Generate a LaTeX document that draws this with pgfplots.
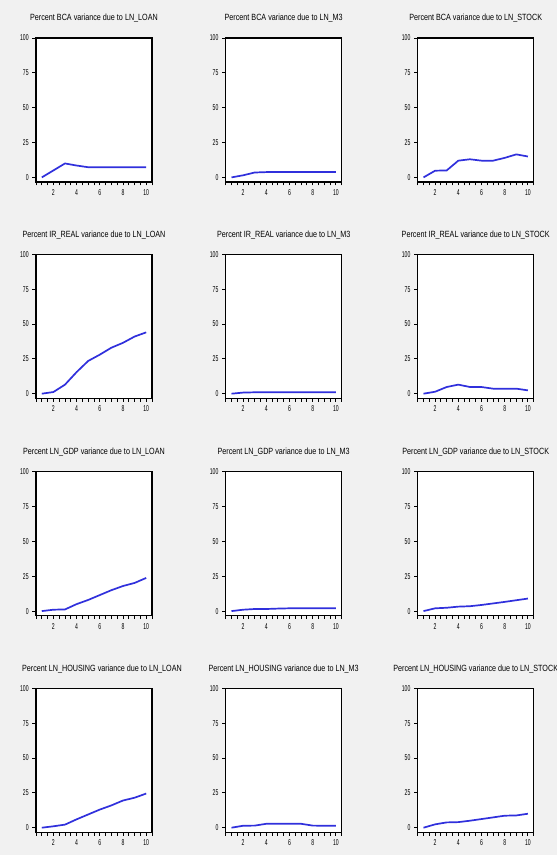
\documentclass[border=0pt]{standalone}
\usepackage{pgfplots}
\pgfplotsset{compat=1.18}
\usepackage{pgfplotstable}
\usepackage{fontspec}
\setmainfont{Liberation Sans}
\newfontfamily\titlefont[FakeStretch=0.8]{Liberation Sans}
\newfontfamily\tickfont[FakeStretch=0.6]{Liberation Sans}

\definecolor{bggray}{RGB}{241,241,241}
\definecolor{lineblue}{RGB}{48,48,220}

% Variance decomposition, horizon 1..10: columns = shock (LN_LOAN, LN_M3, LN_STOCK)
\pgfplotstableread{
h  loan  m3   stock
1  0     0    0
2  5     1.5  4.8
3  10    3.5  5
4  8.5   3.8  12
5  7.3   3.8  13
6  7.3   3.8  12
7  7.3   3.8  12
8  7.3   3.8  14
9  7.3   3.8  16.5
10 7.3   3.8  15
}\bca
\pgfplotstableread{
h  loan  m3   stock
1  0     0    0
2  1.2   0.8  1.4
3  6.5   1.0  4.8
4  15.5  1.0  6.5
5  23.5  1.0  4.8
6  28    1.0  4.8
7  33    1.0  3.6
8  36.5  1.0  3.6
9  41    1.0  3.6
10 44    1.0  2.4
}\irreal
\pgfplotstableread{
h  loan  m3   stock
1  0     0    0
2  1     1.0  2
3  1.2   1.5  2.4
4  5     1.5  3.2
5  8     1.8  3.5
6  11.5  2.0  4.4
7  15    2.0  5.5
8  18    2.0  6.6
9  20.2  2.0  7.8
10 23.8  2.0  9
}\gdp
\pgfplotstableread{
h  loan  m3   stock
1  0     0    0
2  1     1.4  2.4
3  2.2   1.5  3.8
4  6     2.8  4
5  9.5   2.8  5
6  13    2.8  6.2
7  16    2.8  7.4
8  19.5  1.5  8.6
9  21.5  1.4  8.8
10 24.5  1.4  10
}\housing

\pgfplotsset{
  panel/.style={
    scale only axis, width=116pt, height=144pt,
    anchor=north west,
    xmin=0.5, xmax=10.5, ymin=-3.3, ymax=100,
    xtick={2,4,6,8,10},
    minor xtick={0.5,1,1.5,2.5,3,3.5,4.5,5,5.5,6.5,7,7.5,8.5,9,9.5,10.5},
    ytick={0,25,50,75,100},
    xtick pos=bottom, ytick pos=left,
    tick align=outside,
    major tick length=3.5pt, minor tick length=3.5pt,
    every tick/.style={black, line width=0.9pt},
    axis line style={black, line width=1.5pt},
    axis background/.style={fill=white},
    /pgf/number format/assume math mode=true,
    tick label style={font=\tickfont\fontsize{8.5}{9}\selectfont, text=black},
    yticklabel style={xshift=-0.3pt},
    xticklabel style={yshift=-0.5pt},
    every axis title shift=0pt,
    title style={font=\titlefont\fontsize{9}{10}\selectfont, at={(0.5,1)}, anchor=base, yshift=17pt},
  },
  vd/.style={lineblue, line width=1.7pt, no markers},
}

\begin{document}
\begin{tikzpicture}
\fill[bggray] (0,0) rectangle (557pt,855pt);

% Row 1: BCA
\begin{axis}[panel, at={(36pt,817pt)}, title={Percent BCA variance due to LN\_LOAN}]
\addplot[vd] table[x=h, y=loan] {\bca};
\end{axis}
\begin{axis}[panel, at={(225.7pt,817pt)}, title={Percent BCA variance due to LN\_M3}]
\addplot[vd] table[x=h, y=m3] {\bca};
\end{axis}
\begin{axis}[panel, at={(417.7pt,817pt)}, title={Percent BCA variance due to LN\_STOCK}]
\addplot[vd] table[x=h, y=stock] {\bca};
\end{axis}

% Row 2: IR_REAL
\begin{axis}[panel, at={(36pt,600.7pt)}, title={Percent IR\_REAL variance due to LN\_LOAN}]
\addplot[vd] table[x=h, y=loan] {\irreal};
\end{axis}
\begin{axis}[panel, at={(225.7pt,600.7pt)}, title={Percent IR\_REAL variance due to LN\_M3}]
\addplot[vd] table[x=h, y=m3] {\irreal};
\end{axis}
\begin{axis}[panel, at={(417.7pt,600.7pt)}, title={Percent IR\_REAL variance due to LN\_STOCK}]
\addplot[vd] table[x=h, y=stock] {\irreal};
\end{axis}

% Row 3: LN_GDP
\begin{axis}[panel, at={(36pt,383.3pt)}, title={Percent LN\_GDP variance due to LN\_LOAN}]
\addplot[vd] table[x=h, y=loan] {\gdp};
\end{axis}
\begin{axis}[panel, at={(225.7pt,383.3pt)}, title={Percent LN\_GDP variance due to LN\_M3}]
\addplot[vd] table[x=h, y=m3] {\gdp};
\end{axis}
\begin{axis}[panel, at={(417.7pt,383.3pt)}, title={Percent LN\_GDP variance due to LN\_STOCK}]
\addplot[vd] table[x=h, y=stock] {\gdp};
\end{axis}

% Row 4: LN_HOUSING
\begin{axis}[panel, at={(36pt,166.7pt)}, title={Percent LN\_HOUSING variance due to LN\_LOAN},
  title style={xshift=8pt}]
\addplot[vd] table[x=h, y=loan] {\housing};
\end{axis}
\begin{axis}[panel, at={(225.7pt,166.7pt)}, title={Percent LN\_HOUSING variance due to LN\_M3}]
\addplot[vd] table[x=h, y=m3] {\housing};
\end{axis}
\begin{axis}[panel, at={(417.7pt,166.7pt)}, title={Percent LN\_HOUSING variance due to LN\_STOCK}]
\addplot[vd] table[x=h, y=stock] {\housing};
\end{axis}

\pgfresetboundingbox
\useasboundingbox (0,0) rectangle (557pt,855pt);
\end{tikzpicture}
\end{document}
